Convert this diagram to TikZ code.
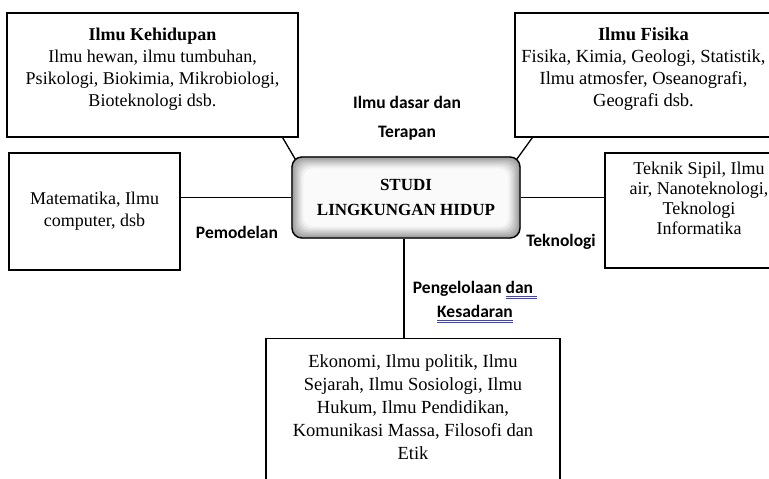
\documentclass[tikz,border=0pt]{standalone}
\usepackage{fontspec}
\setmainfont{Liberation Serif}
\newfontfamily\calibri{Carlito}
\usetikzlibrary{backgrounds}
\definecolor{garisbiru}{RGB}{70,70,150}
\newcommand{\garisganda}[1]{\setbox0=\hbox{#1}\rlap{\textcolor{garisbiru}{\rule[-2.5pt]{\wd0}{0.7pt}}}\rlap{\textcolor{garisbiru}{\rule[-4.5pt]{\wd0}{0.7pt}}}\box0}
\tikzset{kotak/.style={draw, line width=1.3pt, align=center, inner sep=0pt, font=\fontsize{18}{22}\selectfont},
  keterangan/.style={align=center, font=\calibri\bfseries\fontsize{17.5}{29}\selectfont},
  pusat/.style={draw, line width=1.3pt, rounded corners=10pt, minimum width=228pt, minimum height=81pt, align=center, font=\bfseries\fontsize{17}{25}\selectfont},
  garis/.style={line width=1.3pt}}

\begin{document}
\begin{tikzpicture}[x=1pt, y=-1pt]
            \useasboundingbox (0,0) rectangle (769,479);
            \clip (0,0) rectangle (769,479);

            \node[kotak, minimum width=291pt, minimum height=124pt] (kehidupan) at (152.5,75) {\textbf{Ilmu Kehidupan}\\Ilmu hewan, ilmu tumbuhan,\\Psikologi, Biokimia, Mikrobiologi,\\Bioteknologi dsb.\rule[-16pt]{0pt}{0pt}};
            \node[kotak, minimum width=257pt, minimum height=124pt, font=\fontsize{18.5}{22}\selectfont] (fisika) at (643.5,75) {\textbf{Ilmu Fisika}\\Fisika, Kimia, Geologi, Statistik,\\Ilmu atmosfer, Oseanografi,\\Geografi dsb.\rule[-16pt]{0pt}{0pt}};
            \node[kotak, minimum width=171pt, minimum height=117pt] (matematika) at (94.5,211.5) {Matematika, Ilmu\\computer, dsb};
            \node[kotak, minimum width=188pt, minimum height=115pt, font=\fontsize{18}{20}\selectfont] (teknik) at (699,210.5) {Teknik Sipil, Ilmu\\air, Nanoteknologi,\\Teknologi\\Informatika\rule[-25pt]{0pt}{0pt}};
            \node[kotak, minimum width=294pt, inner ysep=16pt, anchor=north, font=\fontsize{18.5}{23}\selectfont] (ekonomi) at (413,338) {Ekonomi, Ilmu politik, Ilmu\\Sejarah, Ilmu Sosiologi, Ilmu\\Hukum, Ilmu Pendidikan,\\Komunikasi Massa, Filosofi dan\\Etik\rule[-30pt]{0pt}{0pt}};

            \node[pusat] (studi) at (406,197.5) {STUDI\\LINGKUNGAN HIDUP};
            \begin{scope}[on background layer]
                \foreach \i/\c in {0/40,2/33,4/26,6/19,8/12,10/6,12/2}
                    \fill[black!\c, rounded corners=10pt] ([shift={(\i,\i)}]studi.north west) rectangle ([shift={(-\i,-\i)}]studi.south east);
            \end{scope}

            \node[keterangan] (dasar) at (407,118) {Ilmu dasar dan\\Terapan};
            \node[keterangan] (pemodelan) at (237,232) {Pemodelan};
            \node[keterangan] (teknologi) at (561,242) {Teknologi};
            \node[keterangan, font=\calibri\bfseries\fontsize{17.5}{24}\selectfont] (kelola) at (475,302) {Pengelolaan \garisganda{dan\ }\\\garisganda{Kesadaran}};

            \draw[garis] ([xshift=-16pt]kehidupan.south east) -- ([shift={(4,3)}]studi.north west);
            \draw[garis] ([xshift=18pt]fisika.south west) -- ([shift={(-4,3)}]studi.north east);
            \draw[garis] (studi.west) -- (studi.west -| matematika.east);
            \draw[garis] (studi.east) -- (studi.east -| teknik.west);
            \draw[garis] ([xshift=-2pt]studi.south) -- ([xshift=-2pt]studi.south |- ekonomi.north);
        \end{tikzpicture}
\end{document}
